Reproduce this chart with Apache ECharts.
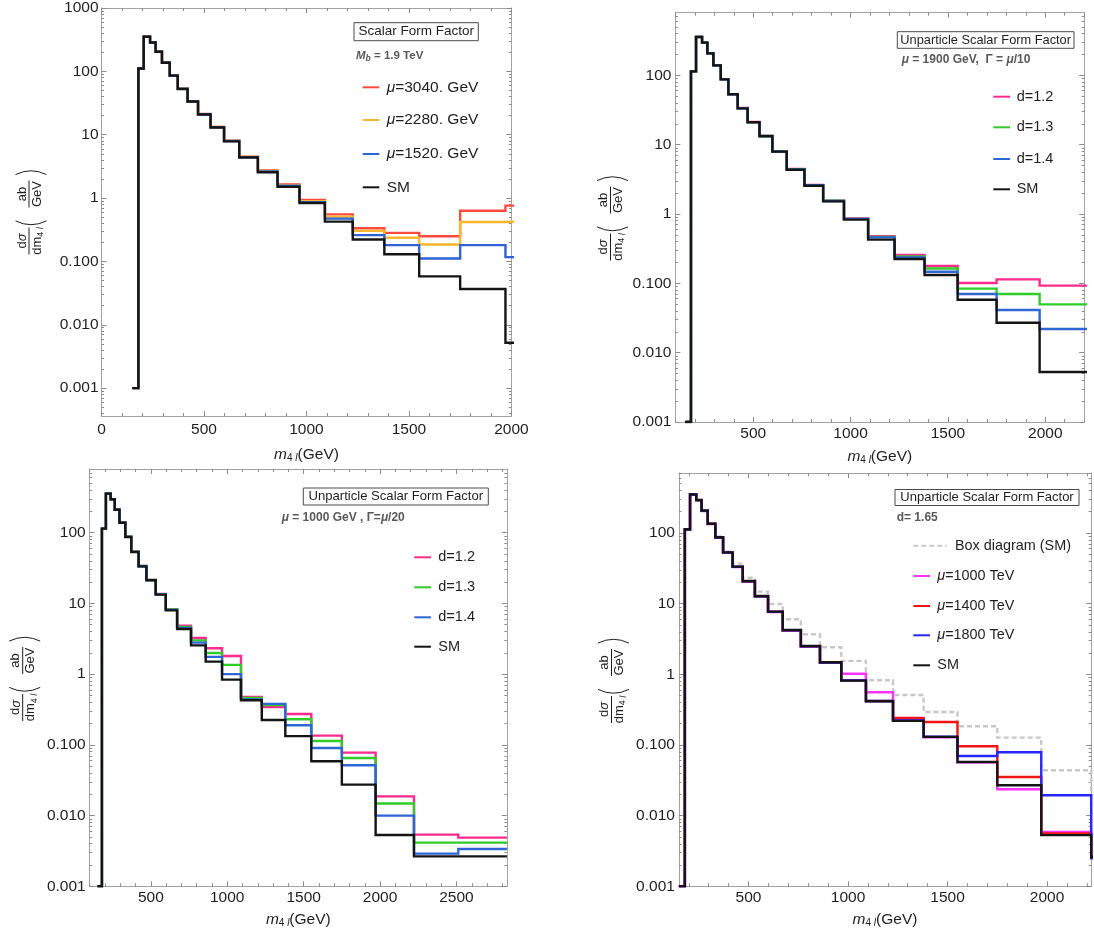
<!DOCTYPE html>
<html>
<head>
<meta charset="utf-8">
<script src="https://cdn.jsdelivr.net/npm/echarts@6/dist/echarts.min.js"></script>
<style>
  html, body { margin: 0; padding: 0; background: #ffffff; }
  #chart { width: 1094px; height: 934px; }
</style>
</head>
<body>
<div id="chart"></div>
<script>
// Bin edges of the four-lepton invariant mass histogram (GeV)
const BIN_EDGES = [150, 180, 206, 237, 264, 295, 333, 372, 420, 471, 532, 598, 672, 763, 859, 966, 1090, 1226, 1380, 1550, 1750, 1971, 2222, 2512, 2830];

// Panel 1: scalar form factor, M_b = 1.9 TeV
const P1_SM      = [0.001, 111, 351, 285, 204, 137, 85.5, 52.7, 33.4, 20.8, 13.0, 7.85, 4.36, 2.56, 1.51, 0.835, 0.425, 0.222, 0.130, 0.058, 0.0367, 0.0052];
const P1_MU3040  = [0.001, 112, 355, 288, 206, 139, 86.5, 53.3, 33.8, 21.2, 13.3, 8.05, 4.50, 2.72, 1.64, 0.930, 0.553, 0.334, 0.282, 0.250, 0.632, 0.760];
const P1_MU2280  = [0.001, 112, 354, 287, 205, 138, 86.0, 53.0, 33.7, 21.1, 13.2, 8.00, 4.46, 2.67, 1.60, 0.890, 0.509, 0.303, 0.236, 0.185, 0.420, 0.430];
const P1_MU1520  = [0.001, 111, 352, 286, 205, 138, 86.0, 53.0, 33.5, 21.0, 13.1, 7.95, 4.42, 2.62, 1.57, 0.860, 0.473, 0.260, 0.181, 0.111, 0.181, 0.117];

// Panel 2: unparticle, mu = 1900 GeV, Gamma = mu/10
const P2_SM      = [0.001, 114, 357, 296, 207, 139, 87.5, 53.2, 33.4, 21.0, 13.2, 7.93, 4.35, 2.56, 1.52, 0.828, 0.427, 0.224, 0.132, 0.058, 0.027, 0.00526];
const P2_D12     = [0.001, 114, 358, 297, 208, 140, 88.0, 53.6, 33.7, 21.2, 13.4, 8.05, 4.45, 2.63, 1.56, 0.860, 0.477, 0.256, 0.178, 0.101, 0.114, 0.0925];
const P2_D13     = [0.001, 114, 358, 297, 208, 140, 88.0, 53.5, 33.6, 21.1, 13.3, 8.00, 4.42, 2.61, 1.55, 0.850, 0.468, 0.245, 0.164, 0.0838, 0.070, 0.0497];
const P2_D14     = [0.001, 114, 357, 296, 207, 139, 87.8, 53.4, 33.5, 21.1, 13.3, 7.98, 4.40, 2.60, 1.54, 0.850, 0.460, 0.237, 0.147, 0.070, 0.0412, 0.0219];

// Panel 3: unparticle, mu = 1000 GeV, Gamma = mu/20
const P3_SM      = [0.001, 114, 356, 296, 211, 138, 86.9, 53.3, 33.4, 21.2, 13.3, 7.97, 4.35, 2.55, 1.50, 0.836, 0.427, 0.225, 0.133, 0.0585, 0.0274, 0.0053, 0.00265, 0.00265];
const P3_D12     = [0.001, 114, 357, 297, 212, 139, 87.5, 53.8, 33.8, 21.5, 13.6, 8.30, 4.84, 3.24, 2.32, 1.80, 0.475, 0.343, 0.273, 0.135, 0.0776, 0.0187, 0.00537, 0.00488];
const P3_D13     = [0.001, 114, 357, 297, 212, 139, 87.3, 53.6, 33.7, 21.4, 13.5, 8.20, 4.63, 3.00, 1.99, 1.35, 0.460, 0.366, 0.230, 0.1135, 0.0652, 0.0148, 0.00414, 0.00414];
const P3_D14     = [0.001, 114, 356, 296, 211, 138.5, 87.1, 53.5, 33.5, 21.3, 13.4, 8.10, 4.50, 2.79, 1.75, 1.00, 0.440, 0.379, 0.189, 0.0904, 0.0514, 0.00998, 0.0029, 0.00337];

// Panel 4: unparticle, d = 1.65, with the SM box diagram
const P4_SM      = [0.001, 113, 352, 293, 207, 135, 86.8, 53.2, 33.4, 20.9, 12.8, 7.70, 4.24, 2.52, 1.48, 0.813, 0.415, 0.219, 0.130, 0.0575, 0.0269, 0.0053, 0.0026];
const P4_BOX     = [0.001, 113, 352, 293, 208, 137, 89.0, 55.0, 36.8, 23.3, 14.8, 9.89, 6.00, 3.68, 2.41, 1.55, 0.822, 0.510, 0.293, 0.184, 0.127, 0.0438, 0.0026];
const P4_MU1000  = [0.001, 112, 350, 291, 205, 134, 86.0, 52.5, 33.0, 20.6, 12.6, 7.60, 4.15, 2.47, 1.46, 1.02, 0.556, 0.226, 0.128, 0.057, 0.0236, 0.00587, 0.0026];
const P4_MU1400  = [0.001, 112, 351, 292, 206, 134.5, 86.3, 52.8, 33.1, 20.7, 12.7, 7.65, 4.20, 2.50, 1.47, 0.820, 0.420, 0.241, 0.211, 0.0958, 0.0352, 0.0056, 0.0026];
const P4_MU1800  = [0.001, 112, 351, 292, 206, 134.5, 86.3, 52.8, 33.1, 20.7, 12.7, 7.65, 4.20, 2.50, 1.47, 0.820, 0.420, 0.222, 0.131, 0.0698, 0.0787, 0.0194, 0.0025];

// Axis tick values and their labels
const X_TICKS_P1 = [0, 500, 1000, 1500, 2000];
const X_TICKS_P2 = [500, 1000, 1500, 2000];
const X_TICKS_P3 = [500, 1000, 1500, 2000, 2500];
const X_TICKS_P4 = [500, 1000, 1500, 2000];
const Y_TICK_VALUES = [0.001, 0.01, 0.1, 1, 10, 100, 1000];
const Y_TICK_LABELS = ['0.001', '0.010', '0.100', '1', '10', '100', '1000'];

const FAM = "'Liberation Sans', Arial, Helvetica, sans-serif";
const TEXT = '#1e1e1e';
const FRAME = '#a2a2a2';
const TICK = '#8a8a8a';
const SUB = '#595959';
const LINE_W = 2.4;

const measureCtx = document.createElement('canvas').getContext('2d');
function textWidth(t, font) { measureCtx.font = font; return measureCtx.measureText(t).width; }

// Lay out a sequence of differently styled text runs on one line
function runs(list, x, y, anchor) {
  const widths = list.map(r => textWidth(r.t, r.font));
  const total = widths.reduce((a, b) => a + b, 0);
  let cx = anchor === 'center' ? x - total / 2 : x;
  return list.map((r, i) => {
    const el = {
      type: 'text', x: cx, y: y + (r.dy || 0), silent: true,
      style: { text: r.t, font: r.font, fill: r.fill || TEXT,
               align: 'left', verticalAlign: 'middle', textAlign: 'left', textVerticalAlign: 'middle' }
    };
    cx += widths[i];
    return el;
  });
}

function paren(bulgeX, cy, halfH, side) {
  const s = 3.6;
  const r = (halfH * halfH + s * s) / (2 * s);
  const a = Math.asin(halfH / r);
  const shape = side === 'left'
    ? { cx: bulgeX + r, cy: cy, r: r, startAngle: Math.PI - a, endAngle: Math.PI + a, clockwise: true }
    : { cx: bulgeX - r, cy: cy, r: r, startAngle: -a, endAngle: a, clockwise: true };
  return { type: 'arc', shape: shape, silent: true, style: { stroke: TEXT, fill: 'none', lineWidth: 1 } };
}

// Rotated y-axis title: d sigma / d m_4l ( ab / GeV )
function yTitle(cx, cy) {
  const F = '13px ' + FAM, FI = 'italic 13px ' + FAM, FS = '9px ' + FAM, FSI = 'italic 9px ' + FAM;
  const ch = [];
  ch.push(...runs([{ t: 'd', font: F }, { t: 'σ', font: FI }], -28.5, -6.8, 'center'));
  ch.push(...runs([{ t: 'dm', font: F }, { t: '4', font: FS, dy: 3.5 }, { t: ' ', font: FS, dy: 3.5 }, { t: 'l', font: FSI, dy: 3.5 }], -28.5, 8, 'center'));
  ch.push({ type: 'line', silent: true, shape: { x1: -42, y1: 0, x2: -15, y2: 0 }, style: { stroke: TEXT, lineWidth: 1 } });
  ch.push(paren(-12, 2, 15.5, 'left'));
  ch.push(...runs([{ t: 'ab', font: F }], 18.5, -6.8, 'center'));
  ch.push(...runs([{ t: 'GeV', font: F }], 18.5, 8, 'center'));
  ch.push({ type: 'line', silent: true, shape: { x1: 5, y1: 0, x2: 32, y2: 0 }, style: { stroke: TEXT, lineWidth: 1 } });
  ch.push(paren(41.5, 2, 15.5, 'right'));
  return { type: 'group', x: cx, y: cy, rotation: Math.PI / 2, silent: true, children: ch };
}

function xTitle(cx, cy) {
  return runs([
    { t: 'm', font: 'italic 15.5px ' + FAM },
    { t: '4', font: '10px ' + FAM, dy: 4 },
    { t: ' ', font: '10px ' + FAM, dy: 4 },
    { t: 'l', font: 'italic 10px ' + FAM, dy: 4 },
    { t: '(GeV)', font: '15.5px ' + FAM }
  ], cx, cy, 'center');
}

function boxTitle(x, y, w, h, text, size) {
  return [
    { type: 'rect', silent: true, shape: { x: x, y: y, width: w, height: h },
      style: { fill: '#ffffff', stroke: '#4a4a4a', lineWidth: 1 } },
    ...runs([{ t: text, font: size + 'px ' + FAM }], x + w / 2, y + h / 2, 'center')
  ];
}

function legendItem(x1, x2, y, color, dash, label, tx) {
  return [
    { type: 'line', silent: true, shape: { x1: x1, y1: y, x2: x2, y2: y },
      style: { stroke: color, lineWidth: 2, lineDash: dash || null } },
    ...runs(label, tx, y, 'left')
  ];
}

function muLabel(rest, size) {
  return [{ t: 'μ', font: 'italic ' + size + 'px ' + FAM }, { t: rest, font: size + 'px ' + FAM }];
}
function plainLabel(t, size) { return [{ t: t, font: size + 'px ' + FAM }]; }

const PANELS = [
  { grid: { left: 101.5, top: 6, width: 409.9, height: 410 }, xMin: 0, xMax: 2000, xTicks: X_TICKS_P1,
    yMin: 3.63e-4, yMax: 1000, xMargin: 6, yMargin: 3,
    series: [
      { values: P1_MU3040, color: '#ff4a40' },
      { values: P1_MU2280, color: '#ffb62e' },
      { values: P1_MU1520, color: '#2f62d4' },
      { values: P1_SM, color: '#141414' }
    ] },
  { grid: { left: 675.4, top: 12.7, width: 408.8, height: 409.3 }, xMin: 100, xMax: 2200, xTicks: X_TICKS_P2,
    yMin: 0.001, yMax: 800, xMargin: 3.5, yMargin: 4,
    series: [
      { values: P2_D12, color: '#ff2a8e' },
      { values: P2_D13, color: '#2fcc2a' },
      { values: P2_D14, color: '#2f66d6' },
      { values: P2_SM, color: '#141414' }
    ] },
  { grid: { left: 89.7, top: 469, width: 417.2, height: 417.3 }, xMin: 100, xMax: 2830, xTicks: X_TICKS_P3,
    yMin: 0.001, yMax: 794, xMargin: 3.5, yMargin: 4,
    series: [
      { values: P3_D12, color: '#ff2a8e' },
      { values: P3_D13, color: '#2fcc2a' },
      { values: P3_D14, color: '#2f66d6' },
      { values: P3_SM, color: '#141414' }
    ] },
  { grid: { left: 678.9, top: 473, width: 412.3, height: 413.3 }, xMin: 150, xMax: 2222, xTicks: X_TICKS_P4,
    yMin: 0.001, yMax: 706, xMargin: 3.5, yMargin: 4,
    series: [
      { values: P4_BOX, color: '#c8c8c8', dash: [5, 3] },
      { values: P4_MU1000, color: '#ff33ff' },
      { values: P4_MU1400, color: '#f01414' },
      { values: P4_MU1800, color: '#2626ff' },
      { values: P4_SM, color: '#141414' }
    ] }
];

function stepPoints(values) {
  const pts = values.map((v, i) => [BIN_EDGES[i], v]);
  pts.push([BIN_EDGES[values.length], values[values.length - 1]]);
  return pts;
}

function yLabel(v) {
  let best = 0, bestD = Infinity;
  Y_TICK_VALUES.forEach((t, i) => {
    const d = Math.abs(Math.log10(v) - Math.log10(t));
    if (d < bestD) { bestD = d; best = i; }
  });
  return Y_TICK_LABELS[best];
}

const grids = [], xAxes = [], yAxes = [], seriesList = [];
const labelStyle = { color: TEXT, fontSize: 15.5, fontFamily: FAM };

PANELS.forEach((p, k) => {
  grids.push(Object.assign({ containLabel: false, show: false }, p.grid));

  const xMinor = [];
  for (let v = Math.ceil(p.xMin / 100) * 100; v <= p.xMax; v += 100) {
    if (p.xTicks.indexOf(v) < 0) xMinor.push(v);
  }
  const yMajor = Y_TICK_VALUES.filter(v => v >= p.yMin * 0.999 && v <= p.yMax * 1.001);
  const yMinor = [];
  [0.0001].concat(Y_TICK_VALUES).forEach(d => {
    for (let m = 2; m <= 9; m++) {
      const v = d * m;
      if (v > p.yMin && v < p.yMax) yMinor.push(v);
    }
  });

  ['bottom', 'top'].forEach(pos => {
    xAxes.push({
      gridIndex: k, type: 'value', position: pos, min: p.xMin, max: p.xMax,
      axisLine: { show: true, onZero: false, lineStyle: { color: FRAME, width: 1 } },
      axisTick: { show: true, inside: true, length: 5, customValues: p.xTicks, lineStyle: { color: TICK, width: 1 } },
      axisLabel: pos === 'bottom'
        ? Object.assign({ show: true, customValues: p.xTicks, margin: p.xMargin, formatter: v => String(Math.round(v)) }, labelStyle)
        : { show: false },
      splitLine: { show: false }
    });
    xAxes.push({
      gridIndex: k, type: 'value', position: pos, min: p.xMin, max: p.xMax,
      axisLine: { show: false, onZero: false },
      axisTick: { show: true, inside: true, length: 3, customValues: xMinor, lineStyle: { color: TICK, width: 1 } },
      axisLabel: { show: false }, splitLine: { show: false }
    });
  });

  ['left', 'right'].forEach(pos => {
    yAxes.push({
      gridIndex: k, type: 'log', logBase: 10, position: pos, min: p.yMin, max: p.yMax,
      axisLine: { show: true, onZero: false, lineStyle: { color: FRAME, width: 1 } },
      axisTick: { show: true, inside: true, length: 5, customValues: yMajor, lineStyle: { color: TICK, width: 1 } },
      axisLabel: pos === 'left'
        ? Object.assign({ show: true, customValues: yMajor, margin: p.yMargin, formatter: yLabel }, labelStyle)
        : { show: false },
      splitLine: { show: false }
    });
    yAxes.push({
      gridIndex: k, type: 'log', logBase: 10, position: pos, min: p.yMin, max: p.yMax,
      axisLine: { show: false, onZero: false },
      axisTick: { show: true, inside: true, length: 2.5, customValues: yMinor, lineStyle: { color: TICK, width: 1 } },
      axisLabel: { show: false }, splitLine: { show: false }
    });
  });

  p.series.forEach(s => {
    seriesList.push({
      type: 'line', step: 'end', xAxisIndex: 4 * k, yAxisIndex: 4 * k,
      data: stepPoints(s.values), showSymbol: false, symbol: 'none', silent: true, clip: true,
      lineStyle: { color: s.color, width: LINE_W, type: s.dash || 'solid', cap: 'butt', join: 'miter' },
      emphasis: { disabled: true }
    });
  });
});

const graphics = [];
// Axis titles
graphics.push(...xTitle(306.5, 454.5), ...xTitle(879.8, 456.7), ...xTitle(298.3, 919.3), ...xTitle(885, 919.3));
graphics.push(yTitle(29, 212.5), yTitle(610.5, 218.5), yTitle(22.7, 679), yTitle(611.5, 681));

// Panel 1 annotations and legend
graphics.push(...boxTitle(354, 22.7, 124.3, 18, 'Scalar Form Factor', 13.5));
graphics.push(...runs([
  { t: 'M', font: 'italic bold 11.5px ' + FAM, fill: SUB },
  { t: 'b', font: 'italic bold 8.5px ' + FAM, fill: SUB, dy: 3 },
  { t: ' = 1.9 TeV', font: 'bold 11.5px ' + FAM, fill: SUB }
], 356, 56, 'left'));
graphics.push(...legendItem(362.7, 379.3, 87.3, '#ff4a40', null, muLabel('=3040. GeV', 15.5), 386.7));
graphics.push(...legendItem(362.7, 379.3, 120, '#ffb62e', null, muLabel('=2280. GeV', 15.5), 386.7));
graphics.push(...legendItem(362.7, 379.3, 154, '#2f62d4', null, muLabel('=1520. GeV', 15.5), 386.7));
graphics.push(...legendItem(362.7, 379.3, 187.3, '#141414', null, plainLabel('SM', 15.5), 386.7));

// Panel 2 annotations and legend
graphics.push(...boxTitle(897.3, 31.7, 176.7, 16.6, 'Unparticle Scalar Form Factor', 12.8));
graphics.push(...runs([
  { t: 'μ', font: 'italic bold 12px ' + FAM, fill: SUB },
  { t: ' = 1900 GeV,  Γ = ', font: 'bold 12px ' + FAM, fill: SUB },
  { t: 'μ', font: 'italic bold 12px ' + FAM, fill: SUB },
  { t: '/10', font: 'bold 12px ' + FAM, fill: SUB }
], 901.7, 60, 'left'));
graphics.push(...legendItem(993.3, 1010, 96.7, '#ff2a8e', null, plainLabel('d=1.2', 14.5), 1016.7));
graphics.push(...legendItem(993.3, 1010, 127.3, '#2fcc2a', null, plainLabel('d=1.3', 14.5), 1016.7));
graphics.push(...legendItem(993.3, 1010, 159, '#2f66d6', null, plainLabel('d=1.4', 14.5), 1016.7));
graphics.push(...legendItem(993.3, 1010, 189.3, '#141414', null, plainLabel('SM', 14.5), 1016.7));

// Panel 3 annotations and legend
graphics.push(...boxTitle(303.3, 488, 185, 17, 'Unparticle Scalar Form Factor', 13.1));
graphics.push(...runs([
  { t: 'μ', font: 'italic bold 12px ' + FAM, fill: SUB },
  { t: ' = 1000 GeV , Γ=', font: 'bold 12px ' + FAM, fill: SUB },
  { t: 'μ', font: 'italic bold 12px ' + FAM, fill: SUB },
  { t: '/20', font: 'bold 12px ' + FAM, fill: SUB }
], 281.7, 517.3, 'left'));
graphics.push(...legendItem(414.3, 431, 557.3, '#ff2a8e', null, plainLabel('d=1.2', 14.5), 438.3));
graphics.push(...legendItem(414.3, 431, 587.3, '#2fcc2a', null, plainLabel('d=1.3', 14.5), 438.3));
graphics.push(...legendItem(414.3, 431, 617.3, '#2f66d6', null, plainLabel('d=1.4', 14.5), 438.3));
graphics.push(...legendItem(414.3, 431, 646.7, '#141414', null, plainLabel('SM', 14.5), 438.3));

// Panel 4 annotations and legend
graphics.push(...boxTitle(895, 489.5, 184, 16, 'Unparticle Scalar Form Factor', 13));
graphics.push(...runs([{ t: 'd= 1.65', font: 'bold 12px ' + FAM, fill: SUB }], 896.7, 517.7, 'left'));
graphics.push(...legendItem(913.3, 946.7, 545.7, '#c8c8c8', [5, 3], plainLabel('Box diagram (SM)', 14.4), 955));
graphics.push(...legendItem(913.3, 930, 576, '#ff33ff', null, muLabel('=1000 TeV', 14.4), 937.3));
graphics.push(...legendItem(913.3, 930, 606, '#f01414', null, muLabel('=1400 TeV', 14.4), 937.3));
graphics.push(...legendItem(913.3, 930, 635.3, '#2626ff', null, muLabel('=1800 TeV', 14.4), 937.3));
graphics.push(...legendItem(913.3, 930, 665.3, '#141414', null, plainLabel('SM', 14.4), 937.3));

const chart = echarts.init(document.getElementById('chart'), null, { renderer: 'canvas' });
chart.setOption({
  backgroundColor: '#ffffff',
  animation: false,
  grid: grids,
  xAxis: xAxes,
  yAxis: yAxes,
  series: seriesList,
  graphic: { elements: graphics }
});
</script>
</body>
</html>
